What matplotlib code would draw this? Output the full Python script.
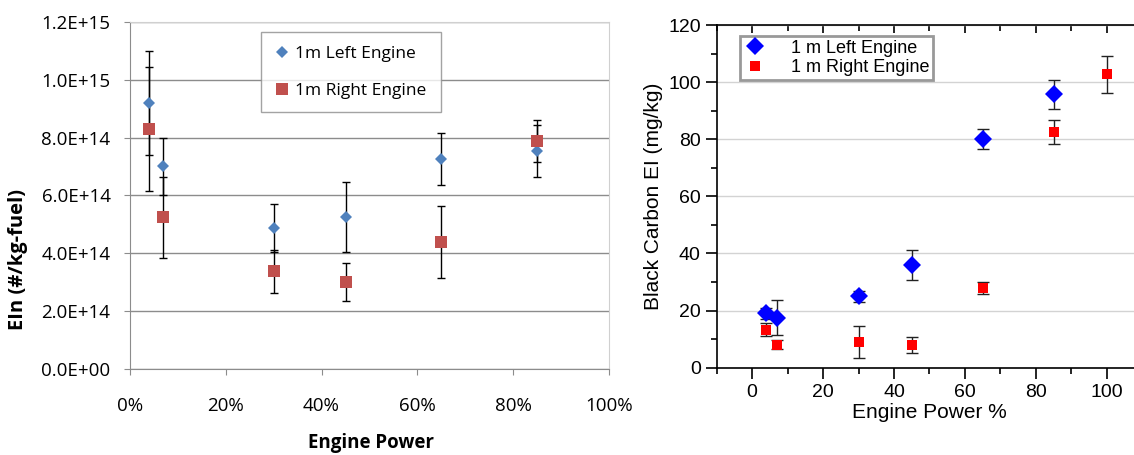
import matplotlib
matplotlib.use("Agg")
import matplotlib.pyplot as plt
from matplotlib.ticker import FuncFormatter, MultipleLocator

# ---------- number EI (left panel) ----------
power_frac = [0.04, 0.07, 0.30, 0.45, 0.65, 0.85]
ein_left = [9.2e14, 7.0e14, 4.87e14, 5.25e14, 7.25e14, 7.52e14]
ein_left_err = [1.8e14, 1.0e14, 0.83e14, 1.2e14, 0.9e14, 0.9e14]
ein_right = [8.3e14, 5.25e14, 3.38e14, 3.0e14, 4.4e14, 7.87e14]
ein_right_err = [2.15e14, 1.4e14, 0.75e14, 0.65e14, 1.25e14, 0.73e14]

# ---------- black carbon EI (right panel) ----------
bc_power_left = [4, 7, 30, 45, 65, 85]
bc_left = [19.0, 17.5, 25.0, 36.0, 80.0, 95.7]
bc_left_err = [2.0, 6.2, 2.0, 5.2, 3.5, 5.2]
bc_power_right = [4, 7, 30, 45, 65, 85, 100]
bc_right = [13.3, 8.0, 9.0, 8.0, 27.8, 82.6, 102.7]
bc_right_err = [2.3, 1.6, 5.6, 2.9, 2.1, 4.3, 6.5]

narrow = "Open Sans"
arial = "Liberation Sans"

fig = plt.figure(figsize=(11.34, 4.55), dpi=100)

# ===== left panel =====
ax1 = fig.add_axes([0.1146, 0.189, 0.4224, 0.763])
ax1.set_xlim(0, 1)
ax1.set_ylim(0, 1.2e15)
ax1.yaxis.set_major_locator(MultipleLocator(2e14))
ax1.xaxis.set_major_locator(MultipleLocator(0.2))
ax1.yaxis.set_major_formatter(FuncFormatter(lambda v, p: f"{v:.1E}"))
ax1.xaxis.set_major_formatter(FuncFormatter(lambda v, p: f"{v*100:.0f}%"))
ax1.grid(axis="y", color="#8c8c8c", lw=1.0)
ax1.set_axisbelow(True)
for s in ["top", "right"]:
    ax1.spines[s].set_color("#d0d0d0")
for s in ["left", "bottom"]:
    ax1.spines[s].set_color("#8c8c8c")
ax1.tick_params(axis="both", direction="out", length=4, color="#8c8c8c",
                labelsize=13.5, labelfontfamily=narrow)
ax1.tick_params(axis="x", pad=16)
ax1.tick_params(axis="y", pad=10)

ax1.errorbar(power_frac, ein_left, yerr=ein_left_err, fmt="none",
             ecolor="black", elinewidth=1, capsize=3, capthick=1, zorder=3)
ax1.errorbar(power_frac, ein_right, yerr=ein_right_err, fmt="none",
             ecolor="black", elinewidth=1, capsize=3, capthick=1, zorder=3)
ax1.plot(power_frac, ein_left, "D", color="#4f81bd", ms=6.5, mew=0,
         zorder=4, label="1m Left Engine")
ax1.plot(power_frac, ein_right, "s", color="#c0504d", ms=8, mew=0,
         zorder=4, label="1m Right Engine")

leg1 = ax1.legend(loc="upper left", bbox_to_anchor=(0.273, 0.972),
                  prop={"family": narrow, "size": 12.5}, frameon=True,
                  fancybox=False, edgecolor="#8c8c8c", labelspacing=1.2,
                  handlelength=0.8, handletextpad=0.4, borderpad=0.8,
                  borderaxespad=0)
leg1.get_frame().set_linewidth(1.0)

fig.text(0.016, 0.43, "EIn (#/kg-fuel)", rotation=90, ha="center",
         va="center", fontsize=14.5, fontweight="bold", family=narrow)
fig.text(0.327, 0.004, "Engine Power", ha="center", va="bottom",
         fontsize=13.5, fontweight="bold", family=narrow)

# ===== right panel =====
ax2 = fig.add_axes([0.632, 0.192, 0.3753, 0.753])
ax2.set_xlim(-10, 110)
ax2.set_ylim(0, 120)
ax2.xaxis.set_major_locator(MultipleLocator(20))
ax2.xaxis.set_minor_locator(MultipleLocator(10))
ax2.yaxis.set_major_locator(MultipleLocator(20))
ax2.yaxis.set_minor_locator(MultipleLocator(10))
ax2.grid(axis="y", which="major", color="#d3d3d3", lw=1.0)
ax2.set_axisbelow(True)
for s in ax2.spines.values():
    s.set_color("black")
    s.set_linewidth(1.2)
ax2.tick_params(axis="both", which="major", direction="out", length=8,
                width=1.2, labelsize=14, labelfontfamily=arial)
ax2.tick_params(axis="both", which="minor", direction="out", length=4,
                width=1.2)
ax2.tick_params(axis="x", which="both", top=True)
# top ticks point into the plot
for t in ax2.xaxis.get_major_ticks():
    t.tick2line.set_marker(3)
    t.tick2line.set_markersize(6)
for t in ax2.xaxis.get_minor_ticks():
    t.tick2line.set_marker(3)
    t.tick2line.set_markersize(4)

ax2.errorbar(bc_power_left, bc_left, yerr=bc_left_err, fmt="none",
             ecolor="#222222", elinewidth=1, capsize=4, capthick=1, zorder=3)
ax2.errorbar(bc_power_right, bc_right, yerr=bc_right_err, fmt="none",
             ecolor="#222222", elinewidth=1, capsize=4, capthick=1, zorder=3)
ax2.plot(bc_power_left, bc_left, "D", color="#0000ff", ms=9, mew=0,
         zorder=4, label="1 m Left Engine")
ax2.plot(bc_power_right, bc_right, "s", color="#ff0000", ms=7.5, mew=0,
         zorder=4, label="1 m Right Engine")

leg2 = ax2.legend(loc="upper left", bbox_to_anchor=(0.055, 0.968),
                  prop={"family": arial, "size": 13}, frameon=True,
                  fancybox=False, edgecolor="#808080", labelspacing=0.15,
                  handlelength=1.2, handletextpad=1.4, borderpad=0.2,
                  borderaxespad=0)
leg2.get_frame().set_linewidth(2.0)

ax2.set_xlabel("Engine Power %", fontsize=15, family=arial, labelpad=2)
ax2.set_ylabel("Black Carbon EI (mg/kg)", fontsize=15, family=arial,
               labelpad=4)

plt.savefig("out.png", dpi=100)
